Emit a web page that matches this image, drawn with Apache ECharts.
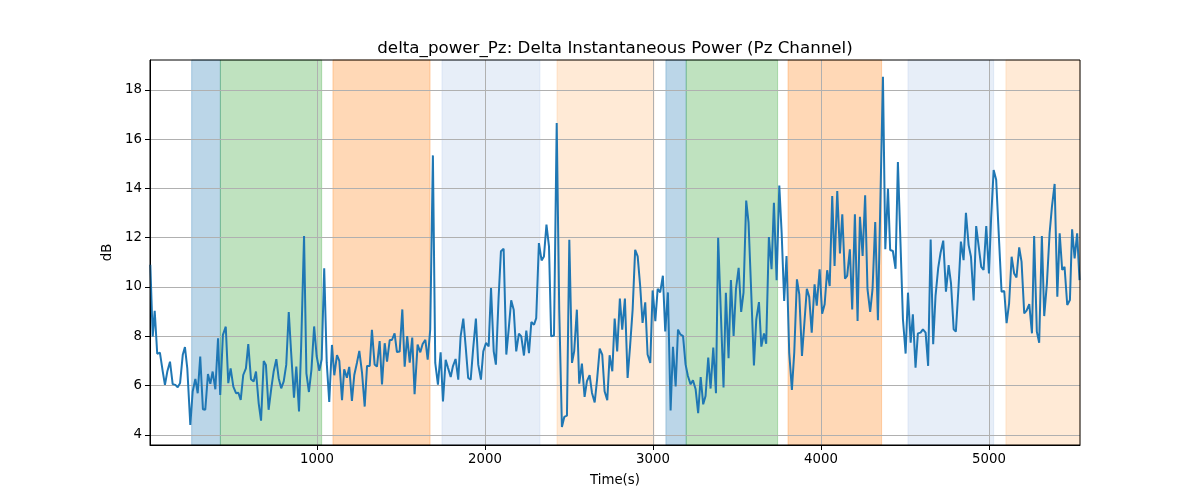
<!DOCTYPE html>
<html>
<head>
<meta charset="utf-8">
<script src="https://cdn.jsdelivr.net/npm/echarts@6/dist/echarts.min.js"></script>
<style>html,body{margin:0;padding:0;background:#fff}#chart{width:1200px;height:500px}</style>
</head>
<body>
<div id="chart"></div>
<script>
const titleText = 'delta_power_Pz: Delta Instantaneous Power (Pz Channel)';
const times = [8,22,34,49,65,82,95,109,125,141,157,171,185,201,214,228,246,260,276,290,305,321,335,351,365,379,395,411,424,440,457,472,486,502,518,532,546,561,577,591,607,623,637,653,667,683,696,712,728,742,758,772,787,802,817,832,847,863,877,893,906,923,937,952,967,983,998,1014,1028,1043,1058,1073,1089,1103,1119,1133,1149,1162,1178,1192,1208,1222,1238,1252,1268,1284,1298,1314,1327,1343,1357,1373,1387,1403,1417,1433,1446,1462,1476,1492,1508,1522,1537,1552,1567,1581,1599,1615,1629,1645,1659,1674,1690,1704,1720,1736,1750,1766,1780,1796,1809,1825,1841,1855,1871,1885,1900,1915,1930,1946,1960,1976,1990,2006,2022,2036,2052,2065,2081,2095,2111,2127,2141,2156,2171,2186,2202,2216,2232,2246,2262,2276,2292,2305,2321,2337,2351,2366,2381,2394,2411,2427,2442,2458,2472,2488,2502,2518,2531,2547,2561,2577,2593,2607,2623,2637,2653,2667,2683,2698,2712,2728,2742,2758,2772,2787,2803,2817,2833,2849,2863,2879,2894,2909,2924,2938,2954,2968,2984,2998,3014,3028,3043,3059,3073,3089,3105,3119,3135,3149,3163,3179,3194,3208,3224,3238,3254,3269,3284,3299,3313,3329,3343,3359,3375,3388,3420,3434,3450,3464,3480,3494,3510,3525,3539,3555,3569,3585,3601,3615,3631,3645,3661,3674,3690,3706,3720,3736,3752,3766,3781,3795,3811,3827,3841,3857,3871,3887,3900,3916,3930,3945,3962,3975,3992,4007,4022,4037,4052,4067,4081,4097,4113,4127,4143,4156,4172,4186,4202,4218,4232,4248,4263,4277,4293,4307,4323,4339,4369,4383,4399,4412,4428,4444,4458,4488,4504,4518,4534,4547,4563,4577,4593,4607,4623,4638,4653,4668,4682,4698,4712,4728,4744,4760,4774,4790,4803,4819,4833,4849,4863,4879,4893,4909,4924,4938,4954,4968,4984,5000,5013,5028,5043,5061,5075,5091,5105,5120,5135,5150,5164,5180,5194,5210,5224,5240,5256,5269,5285,5299,5315,5329,5345,5361,5375,5391,5407,5421,5436,5450,5466,5482,5495,5510,5525,5539];
const values = [10.9,7.99,9.03,7.29,7.34,6.57,6.03,6.57,6.97,6.06,6.03,5.93,6.1,7.25,7.56,6.7,4.4,5.76,6.27,5.69,7.18,5.04,5.02,6.47,6.07,6.57,5.85,7.92,5.62,8.06,8.39,6.1,6.7,5.96,5.69,5.71,5.42,6.43,6.7,7.68,6.26,6.17,6.57,5.28,4.58,7.0,6.84,5.02,5.89,6.57,7.07,6.3,5.89,6.17,6.84,8.98,7.25,5.51,6.77,4.95,7.65,12.07,6.5,5.74,6.65,8.4,7.2,6.6,7.07,10.76,6.93,5.34,7.65,6.42,7.24,7.0,5.41,6.66,6.32,6.76,5.38,6.43,6.93,7.41,6.53,5.15,6.8,6.8,8.26,6.86,6.77,7.81,6.05,7.72,6.97,7.85,7.85,8.12,7.36,7.38,9.09,6.77,8.01,6.93,7.95,5.65,7.66,7.35,7.69,7.86,7.05,8.27,15.34,6.92,6.04,7.35,5.36,7.05,6.72,6.35,6.78,7.08,6.24,8.0,8.72,7.59,6.31,6.24,7.53,8.72,6.85,6.24,7.39,7.73,7.59,9.96,7.39,6.85,9.55,11.45,11.55,7.26,8.27,9.46,9.08,7.39,8.11,8.0,7.22,8.23,7.32,8.58,8.47,8.74,11.78,11.08,11.24,12.53,11.65,8.0,8.03,16.65,9.08,4.32,4.73,4.78,11.92,6.92,7.39,9.08,6.08,6.89,5.54,6.18,6.42,5.7,5.32,6.22,7.5,7.26,5.77,5.41,7.23,6.58,8.72,7.39,9.53,8.27,9.53,6.31,7.53,9.08,11.51,11.24,10.03,8.54,9.38,7.26,6.92,9.86,8.61,9.93,9.78,10.46,8.2,9.78,4.99,7.57,5.97,8.27,8.08,8.01,6.86,6.39,6.05,6.22,5.85,4.88,6.35,5.24,5.58,7.14,5.88,7.54,5.69,12.0,5.92,9.77,7.11,10.28,8.01,9.91,10.78,8.99,9.77,13.51,12.61,9.77,6.82,8.69,9.39,7.58,8.12,7.7,12.03,10.72,13.42,10.28,14.12,12.2,9.43,11.26,7.34,5.82,7.34,10.31,9.7,7.2,8.42,9.93,9.6,8.15,10.11,9.24,10.72,8.92,9.3,10.68,10.04,13.69,10.85,13.89,11.36,12.95,10.34,10.45,11.53,9.09,12.95,8.62,12.85,11.26,13.72,9.91,8.99,9.91,12.64,8.65,18.53,11.53,13.99,11.5,11.46,10.74,15.07,8.69,7.3,9.77,7.74,8.89,6.73,8.12,8.15,8.28,8.15,6.8,11.93,7.68,9.64,10.78,11.39,11.88,9.81,10.89,10.16,8.28,8.19,10.01,11.84,11.09,13.01,11.7,11.23,9.45,12.47,11.7,10.82,10.69,12.47,10.55,12.8,14.75,14.35,11.77,9.81,9.84,8.53,9.34,11.23,10.55,10.39,11.61,11.03,8.93,9.04,9.31,8.12,12.07,8.19,7.74,12.07,8.82,10.15,12.18,13.26,14.18,9.61,12.18,10.69,10.82,9.27,9.47,12.34,11.16,12.18,10.28];
const spanStarts = [254,425,1095,1744,2429,3077,3198,3804,4518,5101];
const spanEnds = [425,1028,1673,2327,3006,3198,3742,4361,5028,5542];
const spanColors = ['31,119,180','44,160,44','255,127,14','174,199,232','255,187,120','31,119,180','44,160,44','255,127,14','174,199,232','255,187,120'];
const xTicks = [1000,2000,3000,4000,5000];
const yTicks = [4,6,8,10,12,14,16,18];

const lineData = times.map((t, i) => [t, values[i]]);
const areas = spanStarts.map((s, i) => [
  {xAxis: s, itemStyle: {color: 'rgba(' + spanColors[i] + ',0.3)', borderColor: 'rgba(' + spanColors[i] + ',0.3)', borderWidth: 1}},
  {xAxis: spanEnds[i]}
]);

const font = 'DejaVu Sans';
const chart = echarts.init(document.getElementById('chart'));
chart.setOption({
  animation: false,
  backgroundColor: '#fff',
  title: {
    text: titleText, left: 610, top: 35, textAlign: 'center',
    textStyle: {fontFamily: font, fontSize: 16.7, fontWeight: 'normal', color: '#000'}
  },
  grid: {left: 150, right: 120, top: 60, bottom: 55, show: true, borderColor: '#000', borderWidth: 1, backgroundColor: 'transparent', z: 10},
  xAxis: {
    type: 'value', min: 6, max: 5542, splitNumber: 5, z: 2,
    name: 'Time(s)', nameLocation: 'middle', nameGap: 29,
    nameTextStyle: {fontFamily: font, fontSize: 13.3, color: '#000'},
    axisLine: {show: true, onZero: false, lineStyle: {color: '#000', width: 1}},
    axisTick: {show: true, inside: false, length: 5, lineStyle: {color: '#000'}, customValues: xTicks},
    axisLabel: {fontFamily: font, fontSize: 13.3, color: '#000', margin: 8, showMinLabel: false, showMaxLabel: false,
      formatter: function (v) { return String(v); }},
    splitLine: {show: true, lineStyle: {color: '#b0b0b0', width: 1}}
  },
  yAxis: {
    type: 'value', min: 3.59, max: 19.21, splitNumber: 7, z: 2,
    name: 'dB', nameLocation: 'middle', nameGap: 34, nameRotate: 90,
    nameTextStyle: {fontFamily: font, fontSize: 13.3, color: '#000'},
    axisLine: {show: true, onZero: false, lineStyle: {color: '#000', width: 1}},
    axisTick: {show: true, inside: false, length: 5, lineStyle: {color: '#000'}, customValues: yTicks},
    axisLabel: {fontFamily: font, fontSize: 13.3, color: '#000', margin: 8, showMinLabel: false, showMaxLabel: false,
      formatter: function (v) { return String(v); }},
    splitLine: {show: true, lineStyle: {color: '#b0b0b0', width: 1}}
  },
  series: [
    {type: 'line', data: [], z: 1, silent: true, markArea: {silent: true, z: 1, data: areas}},
    {type: 'line', data: lineData, z: 3, showSymbol: false, symbol: 'none',
     lineStyle: {color: '#1f77b4', width: 2}, itemStyle: {color: '#1f77b4'}}
  ]
});
</script>
</body>
</html>
